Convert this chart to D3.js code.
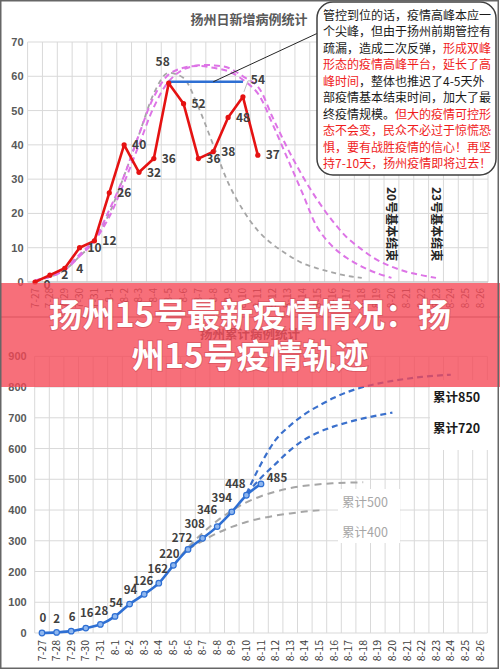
<!DOCTYPE html>
<html>
<head>
<meta charset="utf-8">
<script src="https://cdn.jsdelivr.net/npm/d3@7"></script>
<style>
	body { margin: 0; background: #fff; }
	svg { display: block; font-family: 'Noto Sans CJK SC', 'Noto Sans', sans-serif; }
</style>
</head>
<body>
<svg id="chart"></svg>
<script>
// ========== DATA ==========
var dates = ['7-27', '7-28', '7-29', '7-30', '7-31', '8-1', '8-2', '8-3', '8-4', '8-5', '8-6',
	'8-7', '8-8', '8-9', '8-10', '8-11', '8-12', '8-13', '8-14', '8-15', '8-16', '8-17', '8-18',
	'8-19', '8-20', '8-21', '8-22', '8-23', '8-24', '8-25', '8-26'];

// daily new cases (top chart), from 7-27
var dailyNew = [0, 2, 4, 10, 12, 26, 40, 32, 36, 58, 52, 36, 38, 48, 54, 37];
// projected curves, all from 7-27
var singlePeak = [0.5, 1.5, 3.5, 7.5, 12, 20, 31, 43, 55, 61, 59.5, 51, 40, 29, 21, 15, 11, 8, 5.5, 4, 2.8, 1.8, 1.2];
var doublePeakA = [0.5, 1.5, 4, 8, 12.5, 21, 31, 43, 54, 60.5, 62.5, 63, 62.5, 61.5, 59, 55, 46, 36, 26, 16, 10.5, 7, 4.5, 2.6, 1.2];
var doublePeakB = [0.5, 1.5, 3.5, 7.5, 12, 19, 29, 40, 51, 58.5, 62, 63.2, 63.2, 62.5, 60, 57, 48, 39, 31, 24, 18, 13, 9.5, 6.5, 4.5, 3, 2, 1.2];
var plateauFrom = '8-5';
var plateauTo = '8-10';
var plateauValue = 58.4;
var endNotes = [
	{ date: '8-20', text: '20号基本结束' },
	{ date: '8-23', text: '23号基本结束' }
];

// cumulative cases (bottom chart), from 7-27
var cumulative = [0, 2, 6, 16, 28, 54, 94, 126, 162, 220, 272, 308, 346, 394, 448, 485];
var proj500Start = '8-5';
var proj500 = [220, 278, 325, 365, 398, 425, 445, 460, 471, 479, 484, 487, 489, 490];
var proj400Start = '8-6';
var proj400 = [272, 300, 325, 345, 361, 373, 382, 389, 395, 399];
var proj850Start = '8-10';
var proj850 = [452, 550, 628, 675, 712, 740, 765, 785, 800, 811, 820, 827, 833, 837, 840];
var proj720Start = '8-10';
var proj720 = [452, 505, 550, 595, 630, 654, 672, 686, 698, 708, 717];

var topTicks = [0, 10, 20, 30, 40, 50, 60, 70];
var bottomTicks = [0, 100, 200, 300, 400, 500, 600, 700, 800, 900];

var topTitle = '扬州日新增病例统计';
var bottomTitle = '扬州累计病例统计';
var bannerLines = ['扬州15号最新疫情情况：扬', '州15号疫情轨迹'];

// callout text, hot = red
var calloutLines = [
	[['管控到位的话，疫情高峰本应一', false]],
	[['个尖峰，但由于扬州前期管控有', false]],
	[['疏漏，造成二次反弹，', false], ['形成双峰', true]],
	[['形态的疫情高峰平台，延长了高', true]],
	[['峰时间', true], ['，整体也推迟了4-5天外', false]],
	[['部疫情基本结束时间，加大了最', false]],
	[['终疫情规模。', false], ['但大的疫情可控形', true]],
	[['态不会变，民众不必过于惊慌恐', true]],
	[['惧，要有战胜疫情的信心！再坚', true]],
	[['持7-10天，扬州疫情即将过去！', true]]
];

makeChart();

function makeChart() {
	// ========== CONSTANTS ==========
	var W = 500;
	var H = 671;
	var grid_color = '#d9d9d9';
	var axis_text = '#595959';
	var label_text = '#404040';
	var red = '#e51212';
	var pink = '#dd74e6';
	var gray = '#a6a6a6';
	var blue = '#2e6fd3';

	var svg = d3.select('svg#chart')
		.attr('width', W)
		.attr('height', H);

	svg.append('rect')
		.attr('width', W)
		.attr('height', H)
		.attr('fill', '#fff');

	function series(values, start) {
		var s = dates.indexOf(start);
		return values.map(function(v, i) { return [dates[s + i], v]; });
	}

	// ========== TOP CHART ==========
	var x1 = d3.scaleBand()
		.domain(dates)
		.range([27.6, 488]);
	var y1 = d3.scaleLinear()
		.domain([0, 70])
		.range([282, 42]);
	var cx1 = function(d) { return x1(d) + x1.bandwidth() / 2; };

	var top = svg.append('g');

	// grid
	top.selectAll('.hgrid')
		.data(topTicks)
		.enter().append('line')
		.attr('x1', x1.range()[0])
		.attr('x2', x1.range()[1])
		.attr('y1', function(d) { return y1(d); })
		.attr('y2', function(d) { return y1(d); })
		.attr('stroke', grid_color);
	top.selectAll('.vgrid')
		.data(dates.concat(['end']))
		.enter().append('line')
		.attr('x1', function(d, i) { return x1.range()[0] + i * x1.bandwidth(); })
		.attr('x2', function(d, i) { return x1.range()[0] + i * x1.bandwidth(); })
		.attr('y1', y1(70))
		.attr('y2', y1(0))
		.attr('stroke', grid_color);
	top.append('line')
		.attr('x1', x1.range()[0]).attr('x2', x1.range()[1])
		.attr('y1', y1(0)).attr('y2', y1(0))
		.attr('stroke', '#bfbfbf');

	// y axis
	var yAxis1 = top.append('g')
		.attr('transform', 'translate(' + x1.range()[0] + ',0)')
		.call(d3.axisLeft(y1).tickValues(topTicks).tickSize(0).tickPadding(4));
	yAxis1.select('.domain').remove();
	yAxis1.selectAll('text')
		.attr('fill', axis_text)
		.style('font-size', '11px')
		.style('font-weight', 'bold');

	// x labels
	top.selectAll('.xlab')
		.data(dates)
		.enter().append('text')
		.attr('transform', function(d) { return 'translate(' + cx1(d) + ',288)rotate(-90)'; })
		.attr('text-anchor', 'end')
		.attr('dy', '0.35em')
		.attr('fill', axis_text)
		.style('font-size', '10px')
		.text(function(d) { return d; });

	// title
	top.append('text')
		.attr('x', 249)
		.attr('y', 24)
		.attr('text-anchor', 'middle')
		.attr('fill', axis_text)
		.style('font-size', '13px')
		.style('font-weight', 'bold')
		.text(topTitle);

	var line1 = d3.line()
		.x(function(d) { return cx1(d[0]); })
		.y(function(d) { return y1(d[1]); })
		.curve(d3.curveMonotoneX);

	top.append('path')
		.attr('d', line1(series(singlePeak, '7-27')))
		.attr('fill', 'none')
		.attr('stroke', gray)
		.attr('stroke-width', 1.8)
		.attr('stroke-dasharray', '5,4');

	[doublePeakA, doublePeakB].forEach(function(vals) {
		top.append('path')
			.attr('d', line1.curve(d3.curveCatmullRom)(series(vals, '7-27')))
			.attr('fill', 'none')
			.attr('stroke', pink)
			.attr('stroke-width', 2)
			.attr('stroke-dasharray', '6,4');
	});

	// plateau
	top.append('line')
		.attr('x1', cx1(plateauFrom))
		.attr('x2', cx1(plateauTo))
		.attr('y1', y1(plateauValue))
		.attr('y2', y1(plateauValue))
		.attr('stroke', blue)
		.attr('stroke-width', 2.5);

	// red daily line
	var redData = series(dailyNew, '7-27');
	top.append('path')
		.attr('d', line1.curve(d3.curveLinear)(redData))
		.attr('fill', 'none')
		.attr('stroke', red)
		.attr('stroke-width', 2.6)
		.attr('stroke-linejoin', 'round');
	top.selectAll('.rdot')
		.data(redData)
		.enter().append('circle')
		.attr('cx', function(d) { return cx1(d[0]); })
		.attr('cy', function(d) { return y1(d[1]); })
		.attr('r', 2.6)
		.attr('fill', red);

	// labels mostly sit to the right of the point
	var topOffsets = { 0: [12, 3], 9: [-6, -21], 14: [15, -17] };
	top.selectAll('.rlab')
		.data(redData)
		.enter().append('text')
		.attr('x', function(d, i) { return cx1(d[0]) + (topOffsets[i] ? topOffsets[i][0] : 15); })
		.attr('y', function(d, i) { return y1(d[1]) + (topOffsets[i] ? topOffsets[i][1] : 0); })
		.attr('dy', '0.36em')
		.attr('text-anchor', 'middle')
		.attr('fill', label_text)
		.style('font-size', '12px')
		.style('font-weight', 'bold')
		.text(function(d) { return d[1]; });

	// small leader from 54 label
	top.append('path')
		.attr('d', 'M' + (cx1('8-10') + 1) + ',' + (y1(54) - 5) + 'L' + (cx1('8-10') + 5) + ',' + (y1(54) - 16) + 'h4')
		.attr('fill', 'none')
		.attr('stroke', '#bfbfbf');

	// end notes
	top.selectAll('.note')
		.data(endNotes)
		.enter().append('text')
		.attr('transform', function(d) { return 'translate(' + cx1(d.date) + ',187)rotate(90)'; })
		.attr('dy', '0.36em')
		.attr('fill', '#262626')
		.style('font-size', '12px')
		.style('font-weight', 'bold')
		.text(function(d) { return d.text; });

	// callout
	top.append('line')
		.attr('x1', cx1('8-8'))
		.attr('y1', y1(plateauValue))
		.attr('x2', 318)
		.attr('y2', 33)
		.attr('stroke', '#262626')
		.attr('stroke-width', 1);
	top.append('rect')
		.attr('x', 317)
		.attr('y', 2)
		.attr('width', 179)
		.attr('height', 173)
		.attr('rx', 16)
		.attr('fill', '#fff')
		.attr('stroke', '#404040')
		.attr('stroke-width', 1.5);
	var callout = top.append('text')
		.style('font-size', '12px');
	calloutLines.forEach(function(segs, i) {
		segs.forEach(function(s, j) {
			var t = callout.append('tspan')
				.attr('fill', s[1] ? '#f01c1c' : '#1a1a1a')
				.text(s[0]);
			if (j === 0) {
				t.attr('x', 323).attr('y', 19.6 + i * 16.5);
			}
		});
	});

	// ========== BOTTOM CHART ==========
	var x2 = d3.scaleBand()
		.domain(dates)
		.range([34.7, 487.3]);
	var y2 = d3.scaleLinear()
		.domain([0, 900])
		.range([633, 356.3]);
	var cx2 = function(d) { return x2(d) + x2.bandwidth() / 2; };

	var bot = svg.append('g');

	bot.append('line')
		.attr('x1', 0).attr('x2', W)
		.attr('y1', 317).attr('y2', 317)
		.attr('stroke', '#808080');

	bot.selectAll('.hgrid')
		.data(bottomTicks)
		.enter().append('line')
		.attr('x1', x2.range()[0])
		.attr('x2', x2.range()[1])
		.attr('y1', function(d) { return y2(d); })
		.attr('y2', function(d) { return y2(d); })
		.attr('stroke', grid_color);
	bot.selectAll('.vgrid')
		.data(dates.concat(['end']))
		.enter().append('line')
		.attr('x1', function(d, i) { return x2.range()[0] + i * x2.bandwidth(); })
		.attr('x2', function(d, i) { return x2.range()[0] + i * x2.bandwidth(); })
		.attr('y1', y2(900))
		.attr('y2', y2(0))
		.attr('stroke', grid_color);

	var yAxis2 = bot.append('g')
		.attr('transform', 'translate(' + x2.range()[0] + ',0)')
		.call(d3.axisLeft(y2).tickValues(bottomTicks).tickSize(0).tickPadding(8));
	yAxis2.select('.domain').remove();
	yAxis2.selectAll('text')
		.attr('fill', axis_text)
		.style('font-size', '11px')
		.style('font-weight', 'bold');

	bot.selectAll('.xlab')
		.data(dates)
		.enter().append('text')
		.attr('transform', function(d) { return 'translate(' + cx2(d) + ',640)rotate(-90)'; })
		.attr('text-anchor', 'end')
		.attr('dy', '0.35em')
		.attr('fill', label_text)
		.style('font-size', '10.5px')
		.text(function(d) { return d; });

	bot.append('text')
		.attr('x', 250)
		.attr('y', 339)
		.attr('text-anchor', 'middle')
		.attr('fill', axis_text)
		.style('font-size', '12.5px')
		.style('font-weight', 'bold')
		.text(bottomTitle);

	// white boxes behind the projection labels
	bot.append('rect').attr('x', 430).attr('y', 380).attr('width', 60).attr('height', 70).attr('fill', '#fff');
	bot.append('rect').attr('x', 338).attr('y', 489).attr('width', 62).attr('height', 54).attr('fill', '#fff');

	var line2 = d3.line()
		.x(function(d) { return cx2(d[0]); })
		.y(function(d) { return y2(d[1]); })
		.curve(d3.curveMonotoneX);

	[[proj500, proj500Start], [proj400, proj400Start]].forEach(function(p) {
		bot.append('path')
			.attr('d', line2(series(p[0], p[1])))
			.attr('fill', 'none')
			.attr('stroke', gray)
			.attr('stroke-width', 2)
			.attr('stroke-dasharray', '7,5');
	});
	[[proj850, proj850Start], [proj720, proj720Start]].forEach(function(p) {
		bot.append('path')
			.attr('d', line2(series(p[0], p[1])))
			.attr('fill', 'none')
			.attr('stroke', '#3a70cc')
			.attr('stroke-width', 2.2)
			.attr('stroke-dasharray', '6,4');
	});

	var cumData = series(cumulative, '7-27');
	bot.append('path')
		.attr('d', line2(cumData))
		.attr('fill', 'none')
		.attr('stroke', blue)
		.attr('stroke-width', 2.6);
	bot.selectAll('.bdot')
		.data(cumData)
		.enter().append('circle')
		.attr('cx', function(d) { return cx2(d[0]); })
		.attr('cy', function(d) { return y2(d[1]); })
		.attr('r', 2.8)
		.attr('fill', '#8fb7ef')
		.attr('stroke', blue)
		.attr('stroke-width', 1.2);

	var botDx = [1, 0, 1, 1, 1, 1, 1, -1, -1, -4, -6, -8, -10, -10, -11, 16];
	var botDy = [-15, -14, -14, -15, -14, -14, -14, -13, -14, -12, -12, -14, -17, -14, -11, -6];
	bot.selectAll('.blab')
		.data(cumData)
		.enter().append('text')
		.attr('x', function(d, i) { return cx2(d[0]) + botDx[i]; })
		.attr('y', function(d, i) { return y2(d[1]) + botDy[i]; })
		.attr('dy', '0.36em')
		.attr('text-anchor', 'middle')
		.attr('fill', label_text)
		.style('font-size', '11.5px')
		.style('font-weight', 'bold')
		.text(function(d) { return d[1]; });

	var projLabels = [
		{ text: '累计850', x: 433, y: 397, color: '#1a1a1a', weight: 'bold' },
		{ text: '累计720', x: 433, y: 428, color: '#1a1a1a', weight: 'bold' },
		{ text: '累计500', x: 342, y: 502, color: '#a6a6a6', weight: 'normal' },
		{ text: '累计400', x: 342, y: 532, color: '#a6a6a6', weight: 'normal' }
	];
	bot.selectAll('.plab')
		.data(projLabels)
		.enter().append('text')
		.attr('x', function(d) { return d.x; })
		.attr('y', function(d) { return d.y; })
		.attr('dy', '0.36em')
		.attr('fill', function(d) { return d.color; })
		.style('font-size', '12.5px')
		.style('font-weight', function(d) { return d.weight; })
		.text(function(d) { return d.text; });

	// ========== BANNER ==========
	svg.append('rect')
		.attr('x', 0)
		.attr('y', 283)
		.attr('width', W)
		.attr('height', 104)
		.attr('fill', 'rgba(245,70,85,0.78)');
	svg.selectAll('.banner')
		.data(bannerLines)
		.enter().append('text')
		.attr('x', 250)
		.attr('y', function(d, i) { return 327 + i * 41; })
		.attr('text-anchor', 'middle')
		.attr('fill', '#fff')
		.style('font-size', '33px')
		.style('font-weight', 'bold')
		.style('paint-order', 'stroke')
		.style('stroke', 'rgba(150,30,40,0.25)')
		.style('stroke-width', '2px')
		.text(function(d) { return d; });

	// frame
	svg.append('rect')
		.attr('x', 0.75)
		.attr('y', 0.75)
		.attr('width', W - 2.5)
		.attr('height', 667.5)
		.attr('fill', 'none')
		.attr('stroke', '#666')
		.attr('stroke-width', 1.5);
}
</script>
</body>
</html>
